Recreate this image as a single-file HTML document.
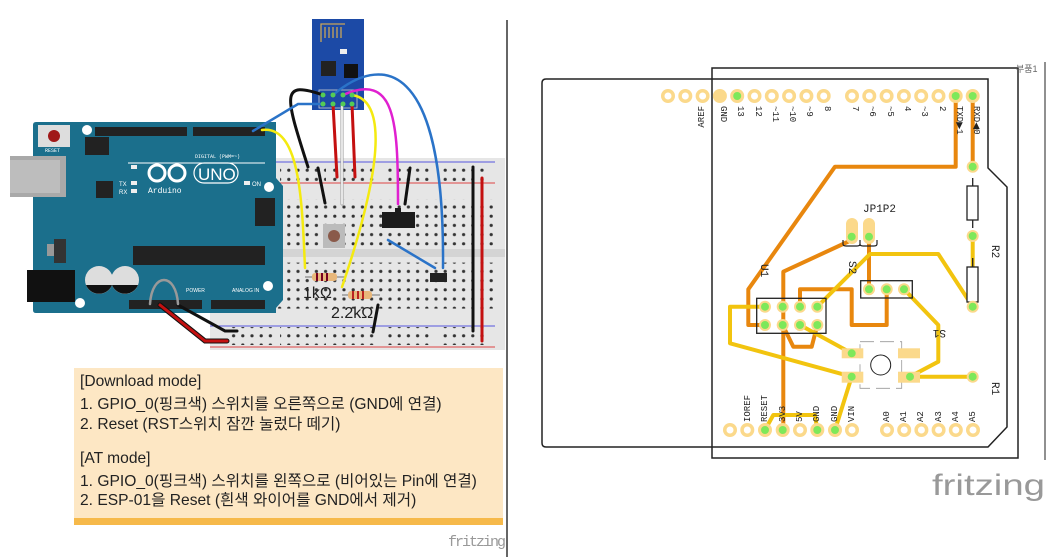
<!DOCTYPE html>
<html><head><meta charset="utf-8"><style>
html,body{margin:0;padding:0;background:#fff;}
body{width:1062px;height:557px;overflow:hidden;position:relative;font-family:"Liberation Sans","Noto Sans CJK KR",sans-serif;}
.note{position:absolute;left:74px;top:368px;width:429px;height:150px;background:#fde7c4;border-bottom:7px solid #f6b94a;}
.note div{position:absolute;left:6px;font-size:15.6px;color:#222;white-space:nowrap;}
</style></head><body>
<svg width="1062" height="557" style="position:absolute;left:0;top:0" xmlns="http://www.w3.org/2000/svg">
<defs>
<pattern id="bbd" x="275" y="0" width="9.2" height="9.2" patternUnits="userSpaceOnUse"><circle cx="4.6" cy="4.6" r="1.6" fill="#333"/></pattern>
</defs>
<line x1="507" y1="20" x2="507" y2="557" stroke="#333" stroke-width="1.5"/>
<!-- breadboard -->
<rect x="210" y="158" width="295" height="192" fill="#e6e6e6"/>
<rect x="210" y="249" width="295" height="8" fill="#d4d4d4"/>
<line x1="210" y1="162" x2="495" y2="162" stroke="#5555dd" stroke-width="1"/>
<line x1="210" y1="183" x2="495" y2="183" stroke="#dd4444" stroke-width="1"/>
<line x1="210" y1="326" x2="495" y2="326" stroke="#5555dd" stroke-width="1"/>
<line x1="210" y1="347" x2="495" y2="347" stroke="#dd4444" stroke-width="1"/>
<rect x="275" y="199.4" width="220" height="46" fill="url(#bbd)"/>
<rect x="275" y="262.6" width="220" height="46" fill="url(#bbd)"/>
<rect x="280" y="163" width="46" height="18" fill="url(#bbd)"/>
<rect x="330" y="163" width="46" height="18" fill="url(#bbd)"/>
<rect x="384" y="163" width="46" height="18" fill="url(#bbd)"/>
<rect x="438" y="163" width="46" height="18" fill="url(#bbd)"/>
<rect x="228" y="327" width="46" height="18" fill="url(#bbd)"/>
<rect x="280" y="327" width="46" height="18" fill="url(#bbd)"/>
<rect x="330" y="327" width="46" height="18" fill="url(#bbd)"/>
<rect x="384" y="327" width="46" height="18" fill="url(#bbd)"/>
<rect x="438" y="327" width="46" height="18" fill="url(#bbd)"/>
<!-- arduino -->
<path d="M36 122 H276 V178 L283 186 V300 L276 308 V313 H36 Q33 313 33 310 V125 Q33 122 36 122Z" fill="#1b6f8c"/>
<rect x="10" y="156" width="56" height="41" fill="#a9a9a9"/><rect x="10" y="160" width="50" height="33" fill="#bdbdbd"/>
<rect x="27" y="270" width="48" height="32" fill="#111"/>
<rect x="38" y="125" width="32" height="22" fill="#ddd"/><circle cx="54" cy="136" r="6" fill="#a01818"/>
<text x="45" y="152" font-size="5" fill="#fff" font-family="Liberation Mono">RESET</text>
<circle cx="87" cy="130" r="5" fill="#fff"/><circle cx="80" cy="303" r="5" fill="#fff"/><circle cx="269" cy="187" r="5" fill="#fff"/><circle cx="268" cy="286" r="5" fill="#fff"/>
<rect x="85" y="137" width="24" height="18" fill="#222"/>
<rect x="96" y="181" width="17" height="17" fill="#222"/>
<rect x="54" y="239" width="12" height="24" fill="#333"/><rect x="47" y="244" width="7" height="12" fill="#999"/>
<rect x="133" y="246" width="132" height="19" fill="#222"/>
<circle cx="99" cy="280" r="14" fill="#ddd"/><path d="M86 285 A14 14 0 0 0 112 285Z" fill="#111"/>
<circle cx="125" cy="280" r="14" fill="#ddd"/><path d="M112 285 A14 14 0 0 0 138 285Z" fill="#111"/>
<rect x="95" y="127" width="92" height="9" fill="#222"/><rect x="193" y="127" width="72" height="9" fill="#222"/>
<rect x="129" y="300" width="73" height="9" fill="#222"/><rect x="211" y="300" width="54" height="9" fill="#222"/>
<rect x="255" y="198" width="20" height="28" fill="#222"/>
<line x1="128" y1="163" x2="265" y2="163" stroke="#fff" stroke-width="1"/>
<text x="195" y="158" font-size="5" fill="#fff" font-family="Liberation Mono">DIGITAL (PWM=~)</text>
<rect x="131" y="165" width="6" height="4" fill="#eee"/><rect x="131" y="181" width="6" height="4" fill="#eee"/><rect x="131" y="189" width="6" height="4" fill="#eee"/><rect x="244" y="181" width="6" height="4" fill="#eee"/>
<text x="119" y="186" font-size="6" fill="#fff">TX</text><text x="119" y="194" font-size="6" fill="#fff">RX</text><text x="252" y="186" font-size="6" fill="#fff">ON</text>
<g fill="none" stroke="#fff" stroke-width="3"><circle cx="157" cy="173" r="8"/><circle cx="177" cy="173" r="8"/></g>
<rect x="194" y="163" width="44" height="20" rx="10" fill="none" stroke="#fff" stroke-width="1.2"/>
<text x="198" y="180" font-size="17" fill="#fff">UNO</text>
<text x="148" y="193" font-size="8" fill="#fff" font-family="Liberation Mono">Arduino</text>
<text x="186" y="292" font-size="5" fill="#fff">POWER</text><text x="232" y="292" font-size="5" fill="#fff">ANALOG IN</text>
<!-- breadboard parts -->
<rect x="323" y="224" width="22" height="24" fill="#bbb"/><circle cx="334" cy="236" r="6" fill="#8a5a4a"/>
<rect x="382" y="212" width="33" height="16" fill="#1b1b1b"/><rect x="395" y="208" width="6" height="5" fill="#1b1b1b"/>
<rect x="430" y="273" width="17" height="9" fill="#222"/>
<line x1="305" y1="277" x2="345" y2="277" stroke="#999" stroke-width="1.5"/>
<rect x="312" y="273" width="25" height="8" rx="3" fill="#e8b77a"/><g stroke="#702" stroke-width="2"><line x1="317" y1="273" x2="317" y2="281"/><line x1="322" y1="273" x2="322" y2="281"/><line x1="327" y1="273" x2="327" y2="281"/></g>
<line x1="342" y1="295" x2="380" y2="295" stroke="#999" stroke-width="1.5"/>
<rect x="348" y="291" width="24" height="8" rx="3" fill="#e8b77a"/><g stroke="#b22" stroke-width="2"><line x1="353" y1="291" x2="353" y2="299"/><line x1="358" y1="291" x2="358" y2="299"/><line x1="363" y1="291" x2="363" y2="299"/></g>
<text x="303" y="298" font-size="16" fill="#222">1kΩ</text>
<text x="331" y="318" font-size="16" fill="#222">2.2kΩ</text>
<!-- ESP -->
<rect x="312" y="19" width="52" height="91" fill="#1c4aa6"/>
<path d="M321 42 V24 H345 M325 38 V27 M329 38 V27 M333 38 V27 M337 38 V27 M341 38 V27" stroke="#c9a55a" stroke-width="1.3" fill="none"/>
<rect x="321" y="61" width="15" height="15" fill="#222"/><rect x="344" y="64" width="14" height="14" fill="#111"/>
<rect x="340" y="49" width="7" height="5" fill="#eee"/>
<rect x="319" y="90" width="38" height="18" fill="none" stroke="#ccc" stroke-width="0.8"/>
<!-- wires -->
<g fill="none" stroke-linecap="round">
<path d="M160 305 L205 341 H227" stroke="#111" stroke-width="5"/><path d="M160 305 L205 341 H227" stroke="#c41010" stroke-width="3"/>
<path d="M178 305 L225 331 H237" stroke="#111" stroke-width="3"/>
<path d="M150 304 C152 272 176 272 178 304" stroke="#999" stroke-width="2.5"/>
<path d="M323 95 C280 80 285 95 308 167" stroke="#111" stroke-width="3"/>
<path d="M318 168 L325 203" stroke="#111" stroke-width="3"/>
<path d="M410 168 L405 204" stroke="#111" stroke-width="3"/>
<path d="M378 305 L373 332" stroke="#111" stroke-width="3"/>
<path d="M473 167 V331" stroke="#111" stroke-width="3"/>
<path d="M482 178 V341" stroke="#c41010" stroke-width="3"/>
<path d="M333 104 L337 177" stroke="#c41010" stroke-width="3"/>
<path d="M352 104 L355 177" stroke="#c41010" stroke-width="3"/>
<path d="M342 104 V204" stroke="#999" stroke-width="3"/><path d="M342 104 V204" stroke="#fff" stroke-width="1.5"/>
<path d="M323 104 H298 L253 131" stroke="#2a73c8" stroke-width="2.5"/>
<path d="M262 130 C300 125 302 200 305 268" stroke="#f4ea10" stroke-width="2.5"/>
<path d="M352 95 C385 100 385 160 342 287" stroke="#f4ea10" stroke-width="2.5"/>
<path d="M343 95 C395 72 398 120 398 204" stroke="#e020d0" stroke-width="2.5"/>
<path d="M333 95 C380 55 445 55 443 268" stroke="#2a73c8" stroke-width="2.5"/>
<path d="M388 240 L435 268" stroke="#2a73c8" stroke-width="2.5"/>
</g>
<g fill="#55cc55"><circle cx="323" cy="95" r="2.5"/><circle cx="333" cy="95" r="2.5"/><circle cx="343" cy="95" r="2.5"/><circle cx="352" cy="95" r="2.5"/><circle cx="323" cy="104" r="2.5"/><circle cx="333" cy="104" r="2.5"/><circle cx="343" cy="104" r="2.5"/><circle cx="352" cy="104" r="2.5"/></g>
<text x="448" y="546" font-size="15" fill="#999" font-family="Liberation Mono" textLength="58">fritzing</text>

<!-- PCB -->
<path d="M546 79 H988 L988 90 V168 L1007 187 V427 L988 447 H546 Q542 447 542 443 V83 Q542 79 546 79Z" fill="none" stroke="#222" stroke-width="1.5"/>
<rect x="712" y="68" width="306" height="390" fill="none" stroke="#222" stroke-width="1.5"/>
<line x1="1045" y1="62" x2="1045" y2="460" stroke="#222" stroke-width="1"/>
<text x="1016" y="72" font-size="9" fill="#666">부품1</text>
<g fill="none" stroke-linejoin="round" stroke-linecap="round" stroke-width="4">
<path d="M955.7 96 V166.7 H835 L748.3 289.3 V325 H765" stroke="#e8870e"/>
<path d="M972.7 96 V166.7" stroke="#e8870e"/>
<path d="M851.7 240 L783.3 271.7 V430" stroke="#e8870e"/>
<path d="M869 236.7 V289.3" stroke="#e8870e"/>
<path d="M886.7 289.3 V325 H851.7 V289.3 H800 V306.7" stroke="#e8870e"/>
<path d="M782.7 325 L793.3 346.7 H811.7 L817.3 325" stroke="#e8870e"/>
<path d="M972.7 236 V306.7 L938.3 254 H870 L816.7 307.3" stroke="#f2c40f"/>
<path d="M904 289.3 L938.3 325 V361.7 L910 376.7 H972.7" stroke="#f2c40f"/>
<path d="M765 306.7 H730 V343.3 L851.7 376.7" stroke="#f2c40f"/>
<path d="M800 325 L851.7 353.3" stroke="#f2c40f"/>
<path d="M851.7 376.7 L835 430" stroke="#f2c40f"/>
<path d="M765 430 L773.3 415 H815 L817.3 430" stroke="#f2c40f"/>
</g>
<g stroke="#222" stroke-width="1.3" fill="#fff">
<rect x="967" y="186" width="11" height="34"/><rect x="967" y="267" width="11" height="35"/>
</g>
<g stroke="#222" stroke-width="1.3"><line x1="972.7" y1="178" x2="972.7" y2="186"/><line x1="972.7" y1="220" x2="972.7" y2="228"/><line x1="972.7" y1="258" x2="972.7" y2="267"/><line x1="972.7" y1="302" x2="972.7" y2="310"/></g>
<rect x="756.7" y="298.3" width="69.3" height="35" fill="none" stroke="#222" stroke-width="1.3"/>
<rect x="860.7" y="280.7" width="51.6" height="17.3" fill="none" stroke="#222" stroke-width="1.3"/>
<rect x="860" y="341.7" width="41.7" height="46.6" fill="none" stroke="#999" stroke-width="0.8" stroke-dasharray="14 6"/>
<circle cx="880.7" cy="365" r="10" fill="none" stroke="#222" stroke-width="1"/>
<g fill="#fbd98b"><rect x="841.7" y="348.3" width="21.6" height="10"/><rect x="898" y="348.3" width="22" height="10"/><rect x="841.7" y="371.7" width="21.6" height="11"/><rect x="898" y="371.7" width="22" height="11"/>
<rect x="846" y="218" width="12" height="26" rx="6"/><rect x="863" y="218" width="12" height="26" rx="6"/></g>
<path d="M843 240 V244 Q843 246 846 246 H857 Q860 246 860 244 V240 M860 240 V244 Q860 246 863 246 H874 Q877 246 877 244 V240" stroke="#222" fill="none" stroke-width="1.2"/>
<g fill="#fbd98b">
<circle cx="668" cy="96" r="7"/><circle cx="685.3" cy="96" r="7"/><circle cx="702.6" cy="96" r="7"/><circle cx="719.9" cy="96" r="7"/><circle cx="737.2" cy="96" r="7"/><circle cx="754.5" cy="96" r="7"/><circle cx="771.8" cy="96" r="7"/><circle cx="789.1" cy="96" r="7"/><circle cx="806.4" cy="96" r="7"/><circle cx="823.7" cy="96" r="7"/>
<circle cx="852" cy="96" r="7"/><circle cx="869.3" cy="96" r="7"/><circle cx="886.6" cy="96" r="7"/><circle cx="903.9" cy="96" r="7"/><circle cx="921.2" cy="96" r="7"/><circle cx="938.5" cy="96" r="7"/><circle cx="955.7" cy="96" r="7"/><circle cx="972.7" cy="96" r="7"/>
<circle cx="730" cy="430" r="7"/><circle cx="747.3" cy="430" r="7"/><circle cx="765" cy="430" r="7"/><circle cx="782.7" cy="430" r="7"/><circle cx="800" cy="430" r="7"/><circle cx="817.3" cy="430" r="7"/><circle cx="835" cy="430" r="7"/><circle cx="852" cy="430" r="7"/>
<circle cx="887" cy="430" r="7"/><circle cx="904.2" cy="430" r="7"/><circle cx="921.4" cy="430" r="7"/><circle cx="938.6" cy="430" r="7"/><circle cx="955.8" cy="430" r="7"/><circle cx="973" cy="430" r="7"/>
<circle cx="765" cy="306.7" r="6"/><circle cx="782.7" cy="306.7" r="6"/><circle cx="800" cy="306.7" r="6"/><circle cx="817.3" cy="306.7" r="6"/><circle cx="765" cy="325" r="6"/><circle cx="782.7" cy="325" r="6"/><circle cx="800" cy="325" r="6"/><circle cx="817.3" cy="325" r="6"/>
<circle cx="869" cy="289.3" r="6"/><circle cx="886.7" cy="289.3" r="6"/><circle cx="904" cy="289.3" r="6"/>
<circle cx="972.7" cy="166.7" r="6"/><circle cx="972.7" cy="236" r="6"/><circle cx="972.7" cy="306.7" r="6"/><circle cx="972.7" cy="376.7" r="6"/>
</g>
<g fill="#fff">
<circle cx="668" cy="96" r="3.5"/><circle cx="685.3" cy="96" r="3.5"/><circle cx="702.6" cy="96" r="3.5"/><circle cx="754.5" cy="96" r="3.5"/><circle cx="771.8" cy="96" r="3.5"/><circle cx="789.1" cy="96" r="3.5"/><circle cx="806.4" cy="96" r="3.5"/><circle cx="823.7" cy="96" r="3.5"/>
<circle cx="852" cy="96" r="3.5"/><circle cx="869.3" cy="96" r="3.5"/><circle cx="886.6" cy="96" r="3.5"/><circle cx="903.9" cy="96" r="3.5"/><circle cx="921.2" cy="96" r="3.5"/><circle cx="938.5" cy="96" r="3.5"/>
<circle cx="730" cy="430" r="3.5"/><circle cx="747.3" cy="430" r="3.5"/><circle cx="800" cy="430" r="3.5"/><circle cx="852" cy="430" r="3.5"/>
<circle cx="887" cy="430" r="3.5"/><circle cx="904.2" cy="430" r="3.5"/><circle cx="921.4" cy="430" r="3.5"/><circle cx="938.6" cy="430" r="3.5"/><circle cx="955.8" cy="430" r="3.5"/><circle cx="973" cy="430" r="3.5"/>
</g>
<g fill="#7de85a">
<circle cx="737.2" cy="96" r="4"/><circle cx="955.7" cy="96" r="4"/><circle cx="972.7" cy="96" r="4"/>
<circle cx="765" cy="430" r="4"/><circle cx="782.7" cy="430" r="4"/><circle cx="817.3" cy="430" r="4"/><circle cx="835" cy="430" r="4"/>
<circle cx="765" cy="306.7" r="4"/><circle cx="782.7" cy="306.7" r="4"/><circle cx="800" cy="306.7" r="4"/><circle cx="817.3" cy="306.7" r="4"/><circle cx="765" cy="325" r="4"/><circle cx="782.7" cy="325" r="4"/><circle cx="800" cy="325" r="4"/><circle cx="817.3" cy="325" r="4"/>
<circle cx="869" cy="289.3" r="4"/><circle cx="886.7" cy="289.3" r="4"/><circle cx="904" cy="289.3" r="4"/>
<circle cx="972.7" cy="166.7" r="4"/><circle cx="972.7" cy="236" r="4"/><circle cx="972.7" cy="306.7" r="4"/><circle cx="972.7" cy="376.7" r="4"/>
<circle cx="851.7" cy="236.7" r="4"/><circle cx="869" cy="236.7" r="4"/>
<circle cx="851.7" cy="353.3" r="4"/><circle cx="851.7" cy="376.7" r="4"/><circle cx="910" cy="376.7" r="4"/>
</g>
<g font-family="Liberation Mono" font-size="9" fill="#222">
<text transform="translate(704,106) rotate(-90)" text-anchor="end">AREF</text>
<text transform="translate(721,106) rotate(90)">GND</text>
<text transform="translate(738,106) rotate(90)">13</text>
<text transform="translate(756,106) rotate(90)">12</text>
<text transform="translate(773,106) rotate(90)">~11</text>
<text transform="translate(790,106) rotate(90)">~10</text>
<text transform="translate(807,106) rotate(90)">~9</text>
<text transform="translate(825,106) rotate(90)">8</text>
<text transform="translate(853,106) rotate(90)">7</text>
<text transform="translate(870,106) rotate(90)">~6</text>
<text transform="translate(888,106) rotate(90)">~5</text>
<text transform="translate(905,106) rotate(90)">4</text>
<text transform="translate(922,106) rotate(90)">~3</text>
<text transform="translate(940,106) rotate(90)">2</text>
<text transform="translate(957,106) rotate(90)">TXD▶1</text>
<text transform="translate(974,106) rotate(90)">RXD◀0</text>
<text transform="translate(750,422) rotate(-90)">IOREF</text>
<text transform="translate(767,422) rotate(-90)">RESET</text>
<text transform="translate(785,422) rotate(-90)">3V3</text>
<text transform="translate(802,422) rotate(-90)">5V</text>
<text transform="translate(819,422) rotate(-90)">GND</text>
<text transform="translate(837,422) rotate(-90)">GND</text>
<text transform="translate(854,422) rotate(-90)">VIN</text>
<text transform="translate(889,422) rotate(-90)">A0</text>
<text transform="translate(906,422) rotate(-90)">A1</text>
<text transform="translate(923,422) rotate(-90)">A2</text>
<text transform="translate(941,422) rotate(-90)">A3</text>
<text transform="translate(958,422) rotate(-90)">A4</text>
<text transform="translate(975,422) rotate(-90)">A5</text>
<text font-size="11" transform="translate(761,264) rotate(90)">U1</text>
<text font-size="11" transform="translate(849,261) rotate(90)">S2</text>
<text font-size="11" transform="translate(946,330) rotate(180)">S1</text>
<text font-size="11" transform="translate(992,245) rotate(90)">R2</text>
<text font-size="11" transform="translate(992,382) rotate(90)">R1</text>
<text font-size="11" x="863" y="212">JP1P2</text>
</g>
<text x="932" y="495" font-size="30" fill="#999" font-family="Liberation Sans" textLength="113" lengthAdjust="spacingAndGlyphs">fritzing</text>
</svg>
<div class="note">
<div style="top:5px">[Download mode]</div>
<div style="top:24px">1. GPIO_0(핑크색) 스위치를 오른쪽으로 (GND에 연결)</div>
<div style="top:44px">2. Reset (RST스위치 잠깐 눌렀다 떼기)</div>
<div style="top:82px">[AT mode]</div>
<div style="top:101px">1. GPIO_0(핑크색) 스위치를 왼쪽으로 (비어있는 Pin에 연결)</div>
<div style="top:120px">2. ESP-01을 Reset (흰색 와이어를 GND에서 제거)</div>
</div>
</body></html>
